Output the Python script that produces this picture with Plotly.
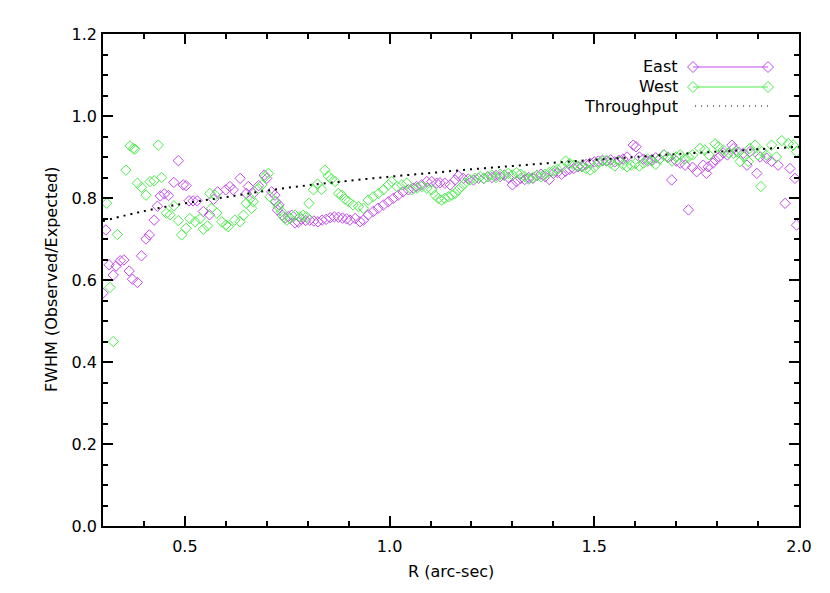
import plotly.graph_objects as go

# East profile: radius (arcsec) and FWHM ratio
east_r = [0.300, 0.307, 0.315, 0.325, 0.332, 0.342, 0.351, 0.364, 0.372, 0.384,
          0.394, 0.405, 0.413, 0.425, 0.433, 0.440, 0.450, 0.460, 0.473, 0.484,
          0.496, 0.503, 0.510, 0.520, 0.530, 0.545, 0.560, 0.570, 0.580, 0.600,
          0.610, 0.618, 0.635, 0.650, 0.655, 0.667, 0.680, 0.694, 0.700, 0.712,
          0.720, 0.722, 0.726, 0.730, 0.738, 0.745, 0.753, 0.761, 0.769, 0.777,
          0.785, 0.795, 0.805, 0.815, 0.825, 0.835, 0.845, 0.855, 0.865, 0.875,
          0.885, 0.895, 0.903, 0.916, 0.928, 0.936, 0.948, 0.960, 0.972, 0.985,
          0.997, 1.009, 1.021, 1.033, 1.046, 1.058, 1.066, 1.078, 1.091, 1.103,
          1.115, 1.123, 1.135, 1.148, 1.160, 1.168, 1.180, 1.192, 1.205, 1.217,
          1.23, 1.24, 1.25, 1.26, 1.27, 1.28, 1.29, 1.30, 1.31, 1.32,
          1.33, 1.34, 1.35, 1.36, 1.37, 1.38, 1.39, 1.40, 1.41, 1.42,
          1.43, 1.44, 1.45, 1.46, 1.47, 1.48, 1.49, 1.50, 1.51, 1.52,
          1.53, 1.54, 1.55, 1.56, 1.57, 1.58, 1.595, 1.602, 1.61, 1.62,
          1.63, 1.64, 1.65, 1.66, 1.67, 1.68, 1.689, 1.70, 1.71, 1.722,
          1.730, 1.740, 1.750, 1.766, 1.774, 1.778, 1.790, 1.795, 1.805, 1.815,
          1.825, 1.836, 1.840, 1.852, 1.864, 1.873, 1.880, 1.897, 1.905, 1.921,
          1.933, 1.949, 1.966, 1.978, 1.990, 1.994]
east_fwhm = [0.568, 0.722, 0.637, 0.612, 0.634, 0.647, 0.649, 0.622, 0.602, 0.594,
             0.659, 0.700, 0.710, 0.746, 0.780, 0.805, 0.810, 0.806, 0.838, 0.891,
             0.832, 0.830, 0.793, 0.793, 0.793, 0.767, 0.759, 0.797, 0.815, 0.820,
             0.828, 0.820, 0.848, 0.811, 0.828, 0.811, 0.830, 0.856, 0.848, 0.815,
             0.807, 0.791, 0.771, 0.783, 0.758, 0.751, 0.755, 0.758, 0.739, 0.741,
             0.748, 0.745, 0.746, 0.744, 0.742, 0.746, 0.748, 0.752, 0.754, 0.753,
             0.751, 0.749, 0.746, 0.750, 0.742, 0.746, 0.759, 0.767, 0.775, 0.783,
             0.791, 0.799, 0.807, 0.815, 0.820, 0.824, 0.828, 0.832, 0.840, 0.840,
             0.836, 0.837, 0.836, 0.832, 0.844, 0.854, 0.848, 0.846, 0.844, 0.848,
             0.848, 0.852, 0.850, 0.855, 0.852, 0.856, 0.850, 0.832, 0.840, 0.848,
             0.845, 0.850, 0.848, 0.855, 0.858, 0.852, 0.845, 0.860, 0.862, 0.858,
             0.865, 0.870, 0.872, 0.876, 0.878, 0.882, 0.885, 0.888, 0.890, 0.892,
             0.890, 0.893, 0.888, 0.892, 0.895, 0.900, 0.929, 0.925, 0.900, 0.895,
             0.890, 0.893, 0.898, 0.895, 0.905, 0.900, 0.844, 0.890, 0.885, 0.880,
             0.771, 0.875, 0.864, 0.880, 0.860, 0.876, 0.885, 0.893, 0.900, 0.910,
             0.905, 0.929, 0.921, 0.912, 0.909, 0.880, 0.913, 0.860, 0.900, 0.897,
             0.889, 0.880, 0.787, 0.872, 0.848, 0.734]

# West profile
west_r = [0.309, 0.317, 0.325, 0.335, 0.356, 0.366, 0.374, 0.378, 0.384, 0.394,
          0.405, 0.415, 0.425, 0.435, 0.443, 0.455, 0.464, 0.473, 0.484, 0.492,
          0.503, 0.512, 0.525, 0.537, 0.545, 0.555, 0.561, 0.565, 0.574, 0.578,
          0.590, 0.600, 0.606, 0.622, 0.635, 0.643, 0.650, 0.660, 0.663, 0.667,
          0.679, 0.688, 0.696, 0.704, 0.708, 0.720, 0.728, 0.736, 0.741, 0.749,
          0.757, 0.769, 0.781, 0.789, 0.797, 0.803, 0.814, 0.824, 0.834, 0.842,
          0.850, 0.858, 0.867, 0.875, 0.883, 0.891, 0.900, 0.911, 0.924, 0.936,
          0.948, 0.960, 0.973, 0.985, 0.997, 1.005, 1.018, 1.030, 1.042, 1.054,
          1.067, 1.079, 1.091, 1.103, 1.111, 1.119, 1.127, 1.135, 1.144, 1.152,
          1.160, 1.168, 1.176, 1.184, 1.197, 1.209, 1.221, 1.23, 1.24, 1.25,
          1.26, 1.27, 1.28, 1.29, 1.30, 1.31, 1.32, 1.33, 1.34, 1.35,
          1.36, 1.37, 1.38, 1.39, 1.40, 1.41, 1.42, 1.43, 1.44, 1.45,
          1.46, 1.47, 1.48, 1.49, 1.50, 1.51, 1.52, 1.53, 1.54, 1.55,
          1.56, 1.57, 1.58, 1.59, 1.60, 1.61, 1.62, 1.63, 1.64, 1.65,
          1.66, 1.67, 1.68, 1.69, 1.70, 1.71, 1.72, 1.73, 1.74, 1.758,
          1.770, 1.780, 1.795, 1.803, 1.815, 1.828, 1.840, 1.848, 1.856, 1.866,
          1.876, 1.880, 1.893, 1.900, 1.907, 1.909, 1.920, 1.933, 1.945, 1.958,
          1.974, 1.986, 1.994]
west_fwhm = [0.787, 0.582, 0.450, 0.711, 0.868, 0.927, 0.921, 0.919, 0.836, 0.826,
             0.807, 0.840, 0.842, 0.929, 0.850, 0.763, 0.759, 0.781, 0.745, 0.710,
             0.726, 0.750, 0.742, 0.750, 0.724, 0.732, 0.811, 0.775, 0.807, 0.763,
             0.742, 0.734, 0.730, 0.746, 0.742, 0.758, 0.787, 0.799, 0.775, 0.791,
             0.823, 0.832, 0.852, 0.860, 0.803, 0.791, 0.779, 0.767, 0.754, 0.746,
             0.750, 0.758, 0.754, 0.758, 0.754, 0.787, 0.820, 0.834, 0.821, 0.868,
             0.854, 0.846, 0.840, 0.811, 0.807, 0.797, 0.791, 0.783, 0.779, 0.775,
             0.795, 0.803, 0.811, 0.820, 0.832, 0.840, 0.828, 0.832, 0.836, 0.820,
             0.824, 0.828, 0.824, 0.820, 0.807, 0.799, 0.795, 0.799, 0.803, 0.807,
             0.811, 0.820, 0.828, 0.836, 0.844, 0.848, 0.852, 0.848, 0.852, 0.856,
             0.850, 0.858, 0.855, 0.860, 0.856, 0.862, 0.858, 0.852, 0.846, 0.850,
             0.855, 0.852, 0.858, 0.862, 0.866, 0.870, 0.875, 0.890, 0.884, 0.880,
             0.878, 0.876, 0.872, 0.868, 0.875, 0.885, 0.890, 0.892, 0.885, 0.878,
             0.890, 0.882, 0.876, 0.880, 0.884, 0.878, 0.885, 0.895, 0.890, 0.882,
             0.895, 0.905, 0.898, 0.890, 0.900, 0.905, 0.895, 0.900, 0.905, 0.921,
             0.917, 0.905, 0.932, 0.925, 0.917, 0.910, 0.909, 0.913, 0.889, 0.900,
             0.889, 0.921, 0.929, 0.905, 0.828, 0.913, 0.905, 0.929, 0.900, 0.940,
             0.933, 0.929, 0.913]

# expected throughput curve
tp_r = [0.3, 0.4, 0.5, 0.6, 0.7, 0.8, 0.9, 1.0, 1.1, 1.2,
        1.3, 1.4, 1.5, 1.6, 1.7, 1.8, 1.9, 2.0]
tp_val = [0.744, 0.768, 0.787, 0.802, 0.818, 0.831, 0.842, 0.852, 0.861, 0.870,
          0.878, 0.886, 0.893, 0.900, 0.907, 0.913, 0.919, 0.925]

PURPLE = "rgb(195,75,235)"
GREEN = "rgb(75,238,75)"
FONT = "DejaVu Sans"

# the page body adds an 8px margin, so the figure is drawn 8px smaller/shifted
OFF = 8
W, H = 830 - OFF, 593 - 2 * OFF
# plot area in figure pixels
L, R, T, B = 103 - OFF, 799 - OFF, 34 - OFF, 526 - OFF


def px(x):
    return (x - OFF - L) / (R - L)


def py(y):
    return (B - (y - OFF)) / (B - T)


fig = go.Figure()
fig.add_trace(go.Scatter(x=east_r, y=east_fwhm, mode="markers", name="East",
                         marker=dict(symbol="diamond-open", size=8, color=PURPLE,
                                     line=dict(width=1, color=PURPLE))))
fig.add_trace(go.Scatter(x=west_r, y=west_fwhm, mode="markers", name="West",
                         marker=dict(symbol="diamond-open", size=8, color=GREEN,
                                     line=dict(width=1, color=GREEN))))
fig.add_trace(go.Scatter(x=tp_r, y=tp_val, mode="lines", name="Throughput",
                         line=dict(color="black", width=2, dash="2px,5px", shape="spline")))

# legend drawn IDL style: label, then line sample with symbols at both ends
shapes = []
annos = []
legend_rows = [("East", PURPLE, 67), ("West", GREEN, 87), ("Throughput", "black", 106)]
for label, col, yy in legend_rows:
    annos.append(dict(text=label, xref="paper", yref="paper", x=px(680), y=py(yy),
                      xanchor="right", yanchor="middle", showarrow=False,
                      font=dict(family=FONT, size=16, color="black")))
    if label == "Throughput":
        shapes.append(dict(type="line", xref="paper", yref="paper",
                           x0=px(695), x1=px(768), y0=py(yy), y1=py(yy),
                           line=dict(color="black", width=1, dash="1px,5px")))
    else:
        shapes.append(dict(type="line", xref="paper", yref="paper",
                           x0=px(693), x1=px(768), y0=py(yy), y1=py(yy),
                           line=dict(color=col, width=1)))
        for cx in (693, 768):
            path = "M {},{} L {},{} L {},{} L {},{} Z".format(
                px(cx - 5.5), py(yy), px(cx), py(yy - 5.5),
                px(cx + 5.5), py(yy), px(cx), py(yy + 5.5))
            shapes.append(dict(type="path", xref="paper", yref="paper", path=path,
                               line=dict(color=col, width=1), fillcolor="rgba(0,0,0,0)"))

annos.append(dict(text="R (arc-sec)", xref="paper", yref="paper", x=0.5, y=py(571),
                  xanchor="center", yanchor="middle", showarrow=False,
                  font=dict(family=FONT, size=16, color="black")))
annos.append(dict(text="FWHM (Observed/Expected)", xref="paper", yref="paper",
                  x=px(51), y=0.5, textangle=-90, xanchor="center", yanchor="middle",
                  showarrow=False, font=dict(family=FONT, size=16, color="black")))

axis_common = dict(showline=True, linecolor="black", linewidth=1.5, mirror="ticks",
                   ticks="inside", ticklen=10, tickwidth=1.5, tickcolor="black",
                   showgrid=False, zeroline=False, automargin=False,
                   tickfont=dict(family=FONT, size=16, color="black"))

fig.update_layout(
    width=W, height=H,
    margin=dict(l=L, r=W - R, t=T, b=H - B),
    paper_bgcolor="white", plot_bgcolor="white",
    showlegend=False,
    shapes=shapes, annotations=annos,
    xaxis=dict(range=[0.3, 2.0], tick0=0, dtick=0.5, tickformat=".1f",
               ticklabelstandoff=5,
               minor=dict(dtick=0.1, ticks="inside", ticklen=5, tickwidth=1.5,
                          tickcolor="black"),
               **axis_common),
    yaxis=dict(range=[0, 1.2], tick0=0, dtick=0.2, tickformat=".1f",
               ticklabelstandoff=1,
               minor=dict(dtick=0.05, ticks="inside", ticklen=5, tickwidth=1.5,
                          tickcolor="black"),
               **axis_common),
)

fig.write_html("out.html")
